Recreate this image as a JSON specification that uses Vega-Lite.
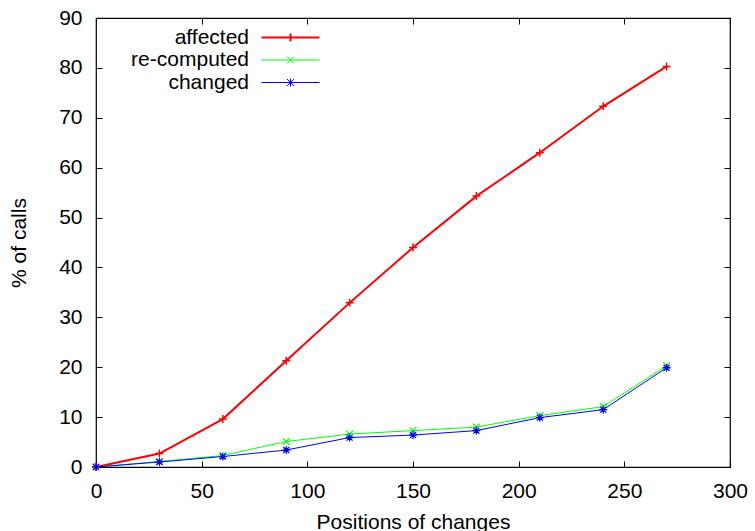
{
  "$schema": "https://vega.github.io/schema/vega-lite/v6.json",
  "width": 634,
  "height": 449,
  "autosize": "none",
  "padding": {"left": 96, "top": 18, "right": 25, "bottom": 64},
  "background": "white",
  "config": {
    "font": "Liberation Sans",
    "view": {"stroke": "#000", "strokeWidth": 1.2},
    "axis": {"labelFont": "Liberation Sans", "titleFont": "Liberation Sans", "labelFontSize": 21, "titleFontSize": 21, "labelColor": "#000", "titleColor": "#000", "titleFontWeight": "normal", "grid": false, "domain": false, "tickColor": "#000", "tickSize": -6, "tickWidth": 1}
  },
  "data": {
    "values": [
      {"pos": 0, "series": "affected", "pct": 0},
      {"pos": 30, "series": "affected", "pct": 2.7},
      {"pos": 60, "series": "affected", "pct": 9.6},
      {"pos": 90, "series": "affected", "pct": 21.3},
      {"pos": 120, "series": "affected", "pct": 32.9},
      {"pos": 150, "series": "affected", "pct": 44.0},
      {"pos": 180, "series": "affected", "pct": 54.3},
      {"pos": 210, "series": "affected", "pct": 63.0},
      {"pos": 240, "series": "affected", "pct": 72.3},
      {"pos": 270, "series": "affected", "pct": 80.3},
      {"pos": 0, "series": "re-computed", "pct": 0},
      {"pos": 30, "series": "re-computed", "pct": 1.1},
      {"pos": 60, "series": "re-computed", "pct": 2.3},
      {"pos": 90, "series": "re-computed", "pct": 5.1},
      {"pos": 120, "series": "re-computed", "pct": 6.6},
      {"pos": 150, "series": "re-computed", "pct": 7.3},
      {"pos": 180, "series": "re-computed", "pct": 8.0},
      {"pos": 210, "series": "re-computed", "pct": 10.3},
      {"pos": 240, "series": "re-computed", "pct": 12.1},
      {"pos": 270, "series": "re-computed", "pct": 20.3},
      {"pos": 0, "series": "changed", "pct": 0},
      {"pos": 30, "series": "changed", "pct": 1.0},
      {"pos": 60, "series": "changed", "pct": 2.1},
      {"pos": 90, "series": "changed", "pct": 3.4},
      {"pos": 120, "series": "changed", "pct": 5.9},
      {"pos": 150, "series": "changed", "pct": 6.4},
      {"pos": 180, "series": "changed", "pct": 7.3},
      {"pos": 210, "series": "changed", "pct": 9.9},
      {"pos": 240, "series": "changed", "pct": 11.5},
      {"pos": 270, "series": "changed", "pct": 19.9}
    ]
  },
  "layer": [
    {
      "mark": {"type": "line", "interpolate": "linear"},
      "encoding": {
        "x": {"field": "pos", "type": "quantitative", "scale": {"domain": [0, 300], "nice": false, "zero": false},
          "axis": {"title": "Positions of changes", "values": [0, 50, 100, 150, 200, 250, 300], "labelPadding": 19, "titlePadding": 10, "labelFlush": false}},
        "y": {"field": "pct", "type": "quantitative", "scale": {"domain": [0, 90], "nice": false},
          "axis": {"title": "% of calls", "values": [0, 10, 20, 30, 40, 50, 60, 70, 80, 90], "labelPadding": 20, "titlePadding": 29, "labelFlush": false}},
        "strokeWidth": {"condition": {"test": "datum.series === 'affected'", "value": 2}, "value": 1},
        "color": {"field": "series", "type": "nominal",
          "scale": {"domain": ["affected", "re-computed", "changed"], "range": ["#ff0000", "#00ff00", "#0000ff"]},
          "legend": {
            "title": null, "orient": "none", "legendX": 184, "legendY": 9,
            "symbolSize": 100, "symbolType": "stroke", "symbolStrokeWidth": 1,
            "labelFontSize": 21, "labelFont": "Liberation Sans", "labelColor": "#000",
            "labelAlign": "right", "labelOffset": -52, "rowPadding": 0.5, "padding": 0, "labelLimit": 300,
            "encode": {"symbols": {"update": {
              "shape": {"signal": "datum.value === 'affected' ? 'M-5.8,0L5.8,0M0,-0.8L0,0.8' : (datum.value === 're-computed' ? 'M-5.8,0L5.8,0M-0.7,-0.7L0.7,0.7M-0.7,0.7L0.7,-0.7' : 'M-5.8,0L5.8,0M0,-0.8L0,0.8M-0.7,-0.7L0.7,0.7M-0.7,0.7L0.7,-0.7')"},
              "strokeWidth": {"signal": "datum.value === 'affected' ? 2 : 1"},
              "fill": {"value": "transparent"}
            }}}
          }}
      }
    },
    {
      "transform": [{"filter": "datum.series === 'affected'"}],
      "mark": {"type": "point", "filled": false, "strokeWidth": 1.5, "size": 64, "opacity": 1, "color": "#ff0000", "shape": "M-1,0L1,0M0,-1L0,1"},
      "encoding": {
        "x": {"field": "pos", "type": "quantitative", "axis": null},
        "y": {"field": "pct", "type": "quantitative", "axis": null}
      }
    },
    {
      "transform": [{"filter": "datum.series === 're-computed'"}],
      "mark": {"type": "point", "filled": false, "strokeWidth": 1.2, "size": 64, "opacity": 1, "color": "#00ff00", "shape": "M-0.85,-0.85L0.85,0.85M-0.85,0.85L0.85,-0.85"},
      "encoding": {
        "x": {"field": "pos", "type": "quantitative", "axis": null},
        "y": {"field": "pct", "type": "quantitative", "axis": null}
      }
    },
    {
      "transform": [{"filter": "datum.series === 'changed'"}],
      "mark": {"type": "point", "filled": false, "strokeWidth": 1.2, "size": 64, "opacity": 1, "color": "#0000ff", "shape": "M-1,0L1,0M0,-1L0,1M-0.75,-0.75L0.75,0.75M-0.75,0.75L0.75,-0.75"},
      "encoding": {
        "x": {"field": "pos", "type": "quantitative", "axis": null},
        "y": {"field": "pct", "type": "quantitative", "axis": null}
      }
    },
    {
      "mark": {"type": "point", "opacity": 0},
      "encoding": {
        "x": {"field": "pos", "type": "quantitative", "axis": {"orient": "top", "title": null, "labels": false, "values": [0, 50, 100, 150, 200, 250, 300]}},
        "y": {"field": "pct", "type": "quantitative", "axis": {"orient": "right", "title": null, "labels": false, "values": [0, 10, 20, 30, 40, 50, 60, 70, 80, 90]}}
      }
    }
  ],
  "resolve": {"axis": {"x": "independent", "y": "independent"}}
}
